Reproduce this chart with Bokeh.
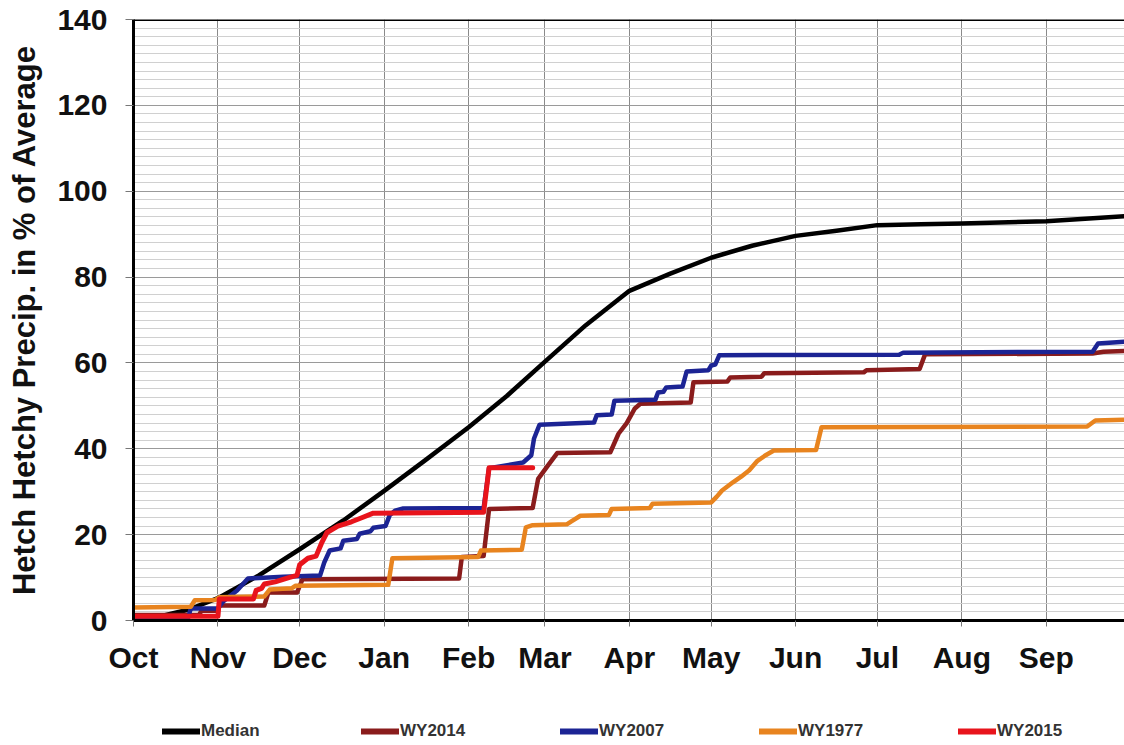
from bokeh.plotting import figure
from bokeh.layouts import column
from bokeh.models import Range1d, FixedTicker, Span, Legend, LegendItem
from bokeh.embed import file_html
from bokeh.resources import INLINE

# ---- data (x = days since Oct 1, y = % of average) ----
month_days = [0, 31, 61, 92, 123, 151, 182, 212, 243, 273, 304, 335]
month_names = ["Oct", "Nov", "Dec", "Jan", "Feb", "Mar", "Apr", "May", "Jun", "Jul", "Aug", "Sep"]
y_ticks = [0, 20, 40, 60, 80, 100, 120, 140]

median_x = [0, 10, 20, 31, 46, 61, 77, 92, 107, 123, 137, 151, 166, 182, 197, 212, 227, 243, 258, 273, 289, 304, 335, 365]
median_y = [0.3, 1.0, 2.5, 5.2, 10.5, 16.6, 23.3, 30.2, 37.3, 45.0, 52.3, 60.3, 68.8, 76.8, 80.8, 84.5, 87.3, 89.6, 90.8, 92.1, 92.3, 92.5, 93.0, 94.2]

wy2014_x = [0, 24, 25, 31, 31.5, 48, 49.5, 60, 62, 119.5, 120.5, 128.5, 130.5, 146.5, 148.5, 152, 155.5, 175, 178, 181, 184, 186, 204.5, 205.5, 218, 219, 230.5, 231.5, 268, 269, 288.5, 290.5, 352, 356, 365]
wy2014_y = [1.3, 1.3, 2.3, 2.3, 3.5, 3.5, 6.5, 6.5, 9.6, 9.8, 14.8, 15.0, 26.0, 26.2, 33.0, 36.0, 39.0, 39.2, 43.5, 46.0, 49.4, 50.5, 50.8, 55.5, 55.7, 56.6, 56.8, 57.6, 57.8, 58.3, 58.6, 62.0, 62.2, 62.6, 62.8]

wy2007_x = [0, 20, 21, 31, 33, 38, 42, 55, 68.5, 70, 72, 76, 77, 82, 83, 87, 88, 92.5, 94, 96, 99, 128.5, 130.5, 143, 146, 147, 149, 169, 170, 175.5, 176.5, 191.5, 192.5, 194.5, 195.5, 201.5, 203, 211, 212, 213.5, 215, 281, 282.5, 352, 354, 365]
wy2007_y = [0.3, 0.5, 2.8, 2.8, 4.5, 7.0, 9.8, 10.2, 10.5, 13.5, 16.3, 16.8, 18.6, 19.0, 20.2, 20.8, 21.6, 22.0, 24.5, 25.6, 26.1, 26.2, 35.5, 36.8, 38.5, 42.4, 45.6, 46.1, 47.8, 48.0, 51.2, 51.4, 53.1, 53.3, 54.3, 54.5, 58.0, 58.3, 59.4, 59.6, 61.8, 61.9, 62.4, 62.6, 64.5, 65.0]

wy1977_x = [0, 21, 22.5, 30, 31.5, 48, 50, 58, 59.5, 93.5, 95, 126.5, 127.5, 142.5, 144, 146.5, 159, 161, 164, 174.5, 175.5, 189.5, 190.5, 212, 214, 216, 220, 223, 226, 229, 232, 235, 250.5, 252.5, 350, 353, 365]
wy1977_y = [3.0, 3.2, 4.7, 4.8, 5.4, 5.6, 7.2, 7.5, 8.1, 8.3, 14.5, 14.8, 16.3, 16.5, 21.7, 22.2, 22.4, 23.2, 24.4, 24.6, 26.0, 26.2, 27.2, 27.5, 28.8, 30.3, 32.2, 33.5, 35.0, 37.2, 38.5, 39.6, 39.7, 45.0, 45.2, 46.6, 46.8]

wy2015_x = [0, 31, 31.5, 44, 45, 47, 48, 52, 57, 60, 61, 64, 67, 69, 71, 75, 80, 84, 88, 128.5, 130.5, 146.5]
wy2015_y = [1.0, 1.0, 5.0, 5.0, 7.0, 7.5, 8.5, 9.0, 10.0, 10.5, 13.0, 14.5, 15.0, 18.0, 20.5, 22.0, 23.0, 24.0, 25.0, 25.2, 35.6, 35.6]

series = [
    ("Median", median_x, median_y, "#000000", 4.5),
    ("WY2014", wy2014_x, wy2014_y, "#8a1c1c", 4.5),
    ("WY2007", wy2007_x, wy2007_y, "#1c2494", 4.5),
    ("WY1977", wy1977_x, wy1977_y, "#e8841f", 4.5),
    ("WY2015", wy2015_x, wy2015_y, "#e8141c", 5),
]

FONT = "Liberation Sans"

p = figure(width=1124, height=700, output_backend="svg", toolbar_location=None,
           x_range=Range1d(0, 363.7), y_range=Range1d(0, 140),
           min_border_left=133, min_border_right=0, min_border_top=19, min_border_bottom=80)
p.background_fill_color = "white"
p.border_fill_color = "white"
p.outline_line_color = None

# axes
p.yaxis.ticker = FixedTicker(ticks=y_ticks, minor_ticks=list(range(0, 141, 2)))
p.xaxis.ticker = FixedTicker(ticks=month_days)
p.xaxis.major_label_overrides = {d: n for d, n in zip(month_days, month_names)}

for ax in (p.xaxis[0], p.yaxis[0]):
    ax.axis_line_color = "black"
    ax.axis_line_width = 3
    ax.major_label_text_font = FONT
    ax.major_label_text_font_style = "bold"
    ax.major_label_text_font_size = "30px"
    ax.major_label_text_color = "#111111"
    ax.minor_tick_in = 0
    ax.minor_tick_out = 0
    ax.major_tick_in = 0
    ax.major_tick_line_color = "#777777"

p.yaxis.major_tick_out = 8
p.yaxis.major_label_standoff = 18
p.xaxis.major_tick_out = 6
p.xaxis.major_label_standoff = 14

p.yaxis.axis_label = "Hetch Hetchy Precip. in % of Average"
p.yaxis.axis_label_text_font = FONT
p.yaxis.axis_label_text_font_style = "bold"
p.yaxis.axis_label_text_font_size = "31px"
p.yaxis.axis_label_text_color = "#111111"
p.yaxis.axis_label_standoff = 12

# grids
p.ygrid.grid_line_color = "#9a9a9a"
p.ygrid.grid_line_width = 1
p.ygrid.minor_grid_line_color = "#d0d0d0"
p.ygrid.minor_grid_line_width = 1
p.xgrid.grid_line_color = "#8a8a8a"
p.xgrid.grid_line_width = 1

p.add_layout(Span(location=140, dimension="width", line_color="black", line_width=3))

for name, xs, ys, color, lw in series:
    p.line(xs, ys, line_color=color, line_width=lw, line_join="round", line_cap="round")

# ---- legend strip underneath (separate small figure; its proxy lines lie outside its range) ----
lg = figure(width=1124, height=45, output_backend="svg", toolbar_location=None,
            x_axis_location=None, y_axis_location=None,
            x_range=Range1d(0, 1), y_range=Range1d(0, 1),
            min_border_left=0, min_border_right=0, min_border_top=0, min_border_bottom=0)
lg.outline_line_color = None
lg.background_fill_color = "white"
lg.border_fill_color = "white"
lg.xgrid.visible = False
lg.ygrid.visible = False

items = []
for name, xs, ys, color, lw in series:
    r = lg.line([5, 6], [5, 5], line_color=color, line_width=6, line_cap="round")
    items.append(LegendItem(label=name, renderers=[r]))

legend = Legend(items=items, orientation="horizontal", location=(29, 4),
                padding=0, margin=0, spacing=64, glyph_width=38, glyph_height=20,
                label_standoff=1, label_width=96, label_height=20,
                label_text_font=FONT, label_text_font_size="17px",
                label_text_font_style="bold", label_text_color="#333333",
                background_fill_alpha=0, border_line_color=None)
lg.add_layout(legend)

layout = column(p, lg, spacing=0)
open("out.html", "w").write(file_html(layout, INLINE))
